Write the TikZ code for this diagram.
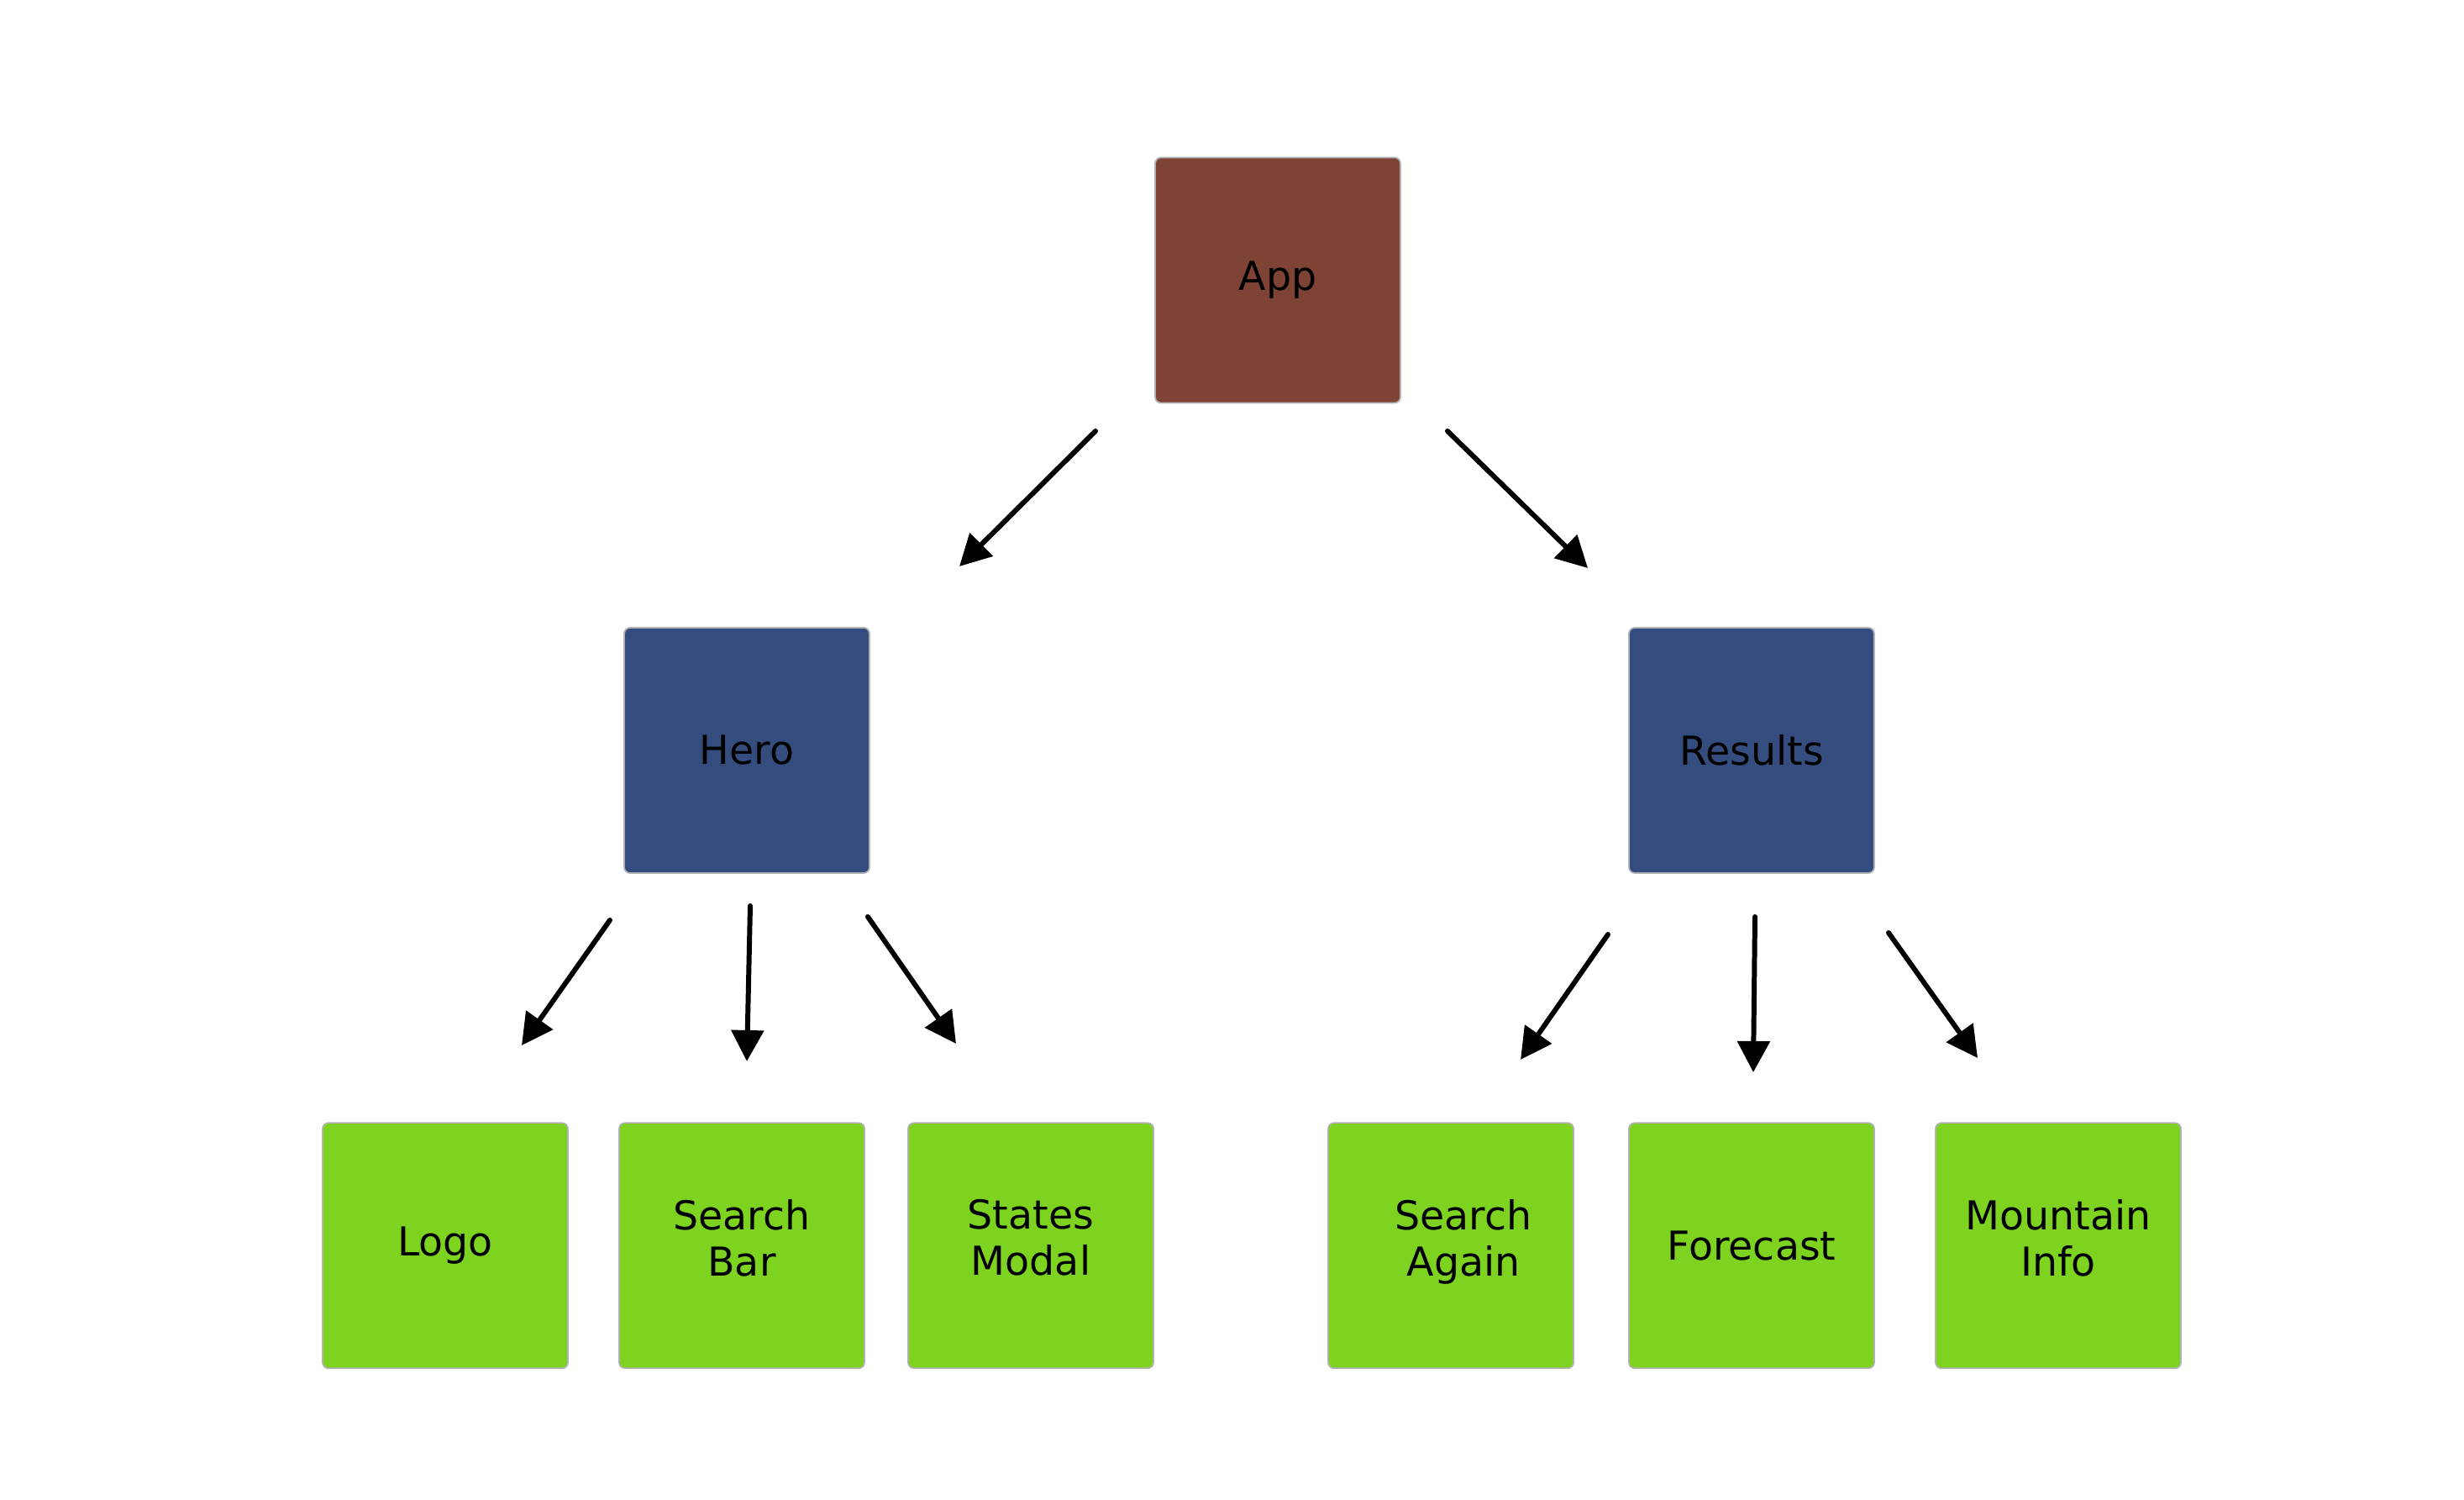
\documentclass[tikz,border=0pt]{standalone}
\usepackage{fontspec}
\setmainfont{DejaVu Sans}
\usepackage{tikz}
\usetikzlibrary{arrows.meta}

\definecolor{appbrown}{HTML}{7F4336}
\definecolor{midblue}{HTML}{344D7E}
\definecolor{leafgreen}{HTML}{7ED321}

\begin{document}
\begin{tikzpicture}[line cap=round,line join=round,>={Triangle[length=0.37cm,width=0.38cm]},x=1.0cm,y=1.0cm,
    box/.style={draw=gray!60,line width=0.5pt,rounded corners=0.07cm,minimum width=2.92cm,minimum height=2.92cm,
      inner sep=0pt,align=center,font=\fontsize{13.5}{15.6}\selectfont,text=black},
    root/.style={box,fill=appbrown},
    mid/.style={box,fill=midblue},
    leaf/.style={box,fill=leafgreen},
    twoline/.style={text depth=0.19cm},
    link/.style={->,line width=1.7pt}]
      \useasboundingbox (0,0) rectangle (29.33,17.84);

      \node[root] (app) at (15.21,14.505) {App};
      \node[mid] (hero) at (8.89,8.91) {Hero};
      \node[mid] (results) at (20.85,8.91) {Results};

      \foreach \name/\x/\extra/\label in {logo/5.30//Logo,bar/8.83/twoline/{Search\\Bar},modal/12.27/twoline/{States\\Modal},
          again/17.27/twoline/{\hspace*{0.3cm}Search\\\hspace*{0.3cm}Again},forecast/20.85//Forecast,mountain/24.50/twoline/{Mountain\\Info}}{
        \node[leaf,\extra] (\name) at (\x,3.017) {\label};
      }

      % arrow ends, free of the boxes
      \coordinate (apphs) at (13.04,12.71);
      \coordinate (appht) at (11.42,11.10);
      \coordinate (apprs) at (17.23,12.71);
      \coordinate (apprt) at (18.90,11.08);
      \coordinate (herols) at (7.26,6.89);
      \coordinate (herolt) at (6.21,5.40);
      \coordinate (herobs) at (8.93,7.06);
      \coordinate (herobt) at (8.89,5.21);
      \coordinate (heroms) at (10.33,6.93);
      \coordinate (heromt) at (11.38,5.42);
      \coordinate (resas) at (19.14,6.72);
      \coordinate (resat) at (18.10,5.23);
      \coordinate (resfs) at (20.89,6.93);
      \coordinate (resft) at (20.87,5.08);
      \coordinate (resms) at (22.48,6.74);
      \coordinate (resmt) at (23.54,5.25);

      \foreach \a in {apph,appr,herol,herob,herom,resa,resf,resm}{
        \draw[link] (\a s) -- (\a t);
      }
    \end{tikzpicture}
\end{document}
